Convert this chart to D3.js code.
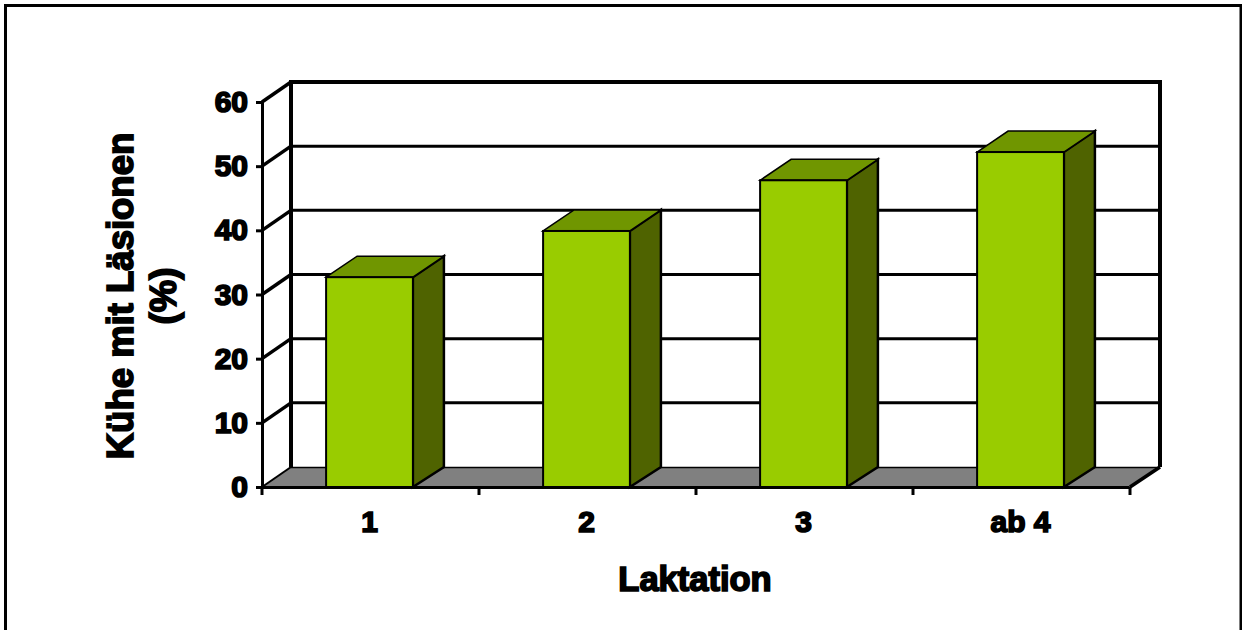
<!DOCTYPE html>
<html>
<head>
<meta charset="utf-8">
<script src="https://cdn.jsdelivr.net/npm/d3@7"></script>
<style>
html,body{margin:0;padding:0;background:#fff;}
svg{display:block;}
text{font-family:"Liberation Sans",Arial,sans-serif;font-weight:bold;fill:#000;stroke:#000;stroke-width:1.7px;}
</style>
</head>
<body>
<svg id="chart" width="1242" height="630"></svg>
<script>
// Share of cows with lesions by lactation number
const categories = ["1", "2", "3", "ab 4"];
const lesionShare = [32.7, 39.9, 47.8, 52.2];
const yTicks = [0, 10, 20, 30, 40, 50, 60];
const yTitleLines = ["Kühe mit Läsionen", "(%)"];
const xTitle = "Laktation";

const svg = d3.select("#chart");
const W = 1242, H = 630;

// Front plane of the pseudo-3D plot and its depth offset
const plotLeft = 262, plotRight = 1130, plotBase = 487, plotTop = 102;
const depthX = 29, depthY = -20;
const barDepthX = 31, barDepthY = -21;

const x = d3.scaleBand().domain(categories).range([plotLeft - 1, plotRight - 1]).paddingInner(0.6).paddingOuter(0.3);
const y = d3.scaleLinear().domain([0, 60]).range([plotBase, plotTop]);

// Outer frame (open at the bottom edge)
svg.append("path")
  .attr("d", d3.line()([[5.5, H], [5.5, 5.5], [1241, 5.5], [1241, H]]))
  .attr("fill", "none").attr("stroke", "#000").attr("stroke-width", 3);

// Floor
svg.append("polygon")
  .attr("points", [[plotLeft, plotBase], [plotLeft + depthX, plotBase + depthY], [plotRight + depthX + 1, plotBase + depthY], [plotRight, plotBase]].join(" "))
  .attr("fill", "#808080");

// Horizontal gridlines on the back wall, with their slanted links to the front axis
const grid = svg.append("g").attr("fill", "none").attr("stroke", "#000");
grid.selectAll("line.back").data(yTicks.slice(1)).join("line")
  .attr("class", "back")
  .attr("x1", plotLeft + depthX).attr("x2", plotRight + depthX + 1)
  .attr("y1", d => y(d) + depthY).attr("y2", d => y(d) + depthY)
  .attr("stroke-width", d => d === 60 ? 4 : 3);
grid.selectAll("line.link").data(yTicks.slice(1)).join("line")
  .attr("class", "link")
  .attr("x1", plotLeft).attr("x2", plotLeft + depthX)
  .attr("y1", d => y(d)).attr("y2", d => y(d) + depthY)
  .attr("stroke-width", 3.5);
grid.append("line").attr("x1", plotLeft).attr("x2", plotLeft + depthX)
  .attr("y1", plotBase).attr("y2", plotBase + depthY).attr("stroke-width", 2);
grid.append("line").attr("x1", plotRight).attr("x2", plotRight + depthX + 1)
  .attr("y1", plotBase).attr("y2", plotBase + depthY).attr("stroke-width", 3.5);
grid.append("line").attr("x1", plotLeft + depthX).attr("x2", plotRight + depthX)
  .attr("y1", plotBase + depthY + 0.5).attr("y2", plotBase + depthY + 0.5).attr("stroke-width", 1.5);

// Back wall verticals
grid.append("line").attr("x1", plotLeft + depthX).attr("x2", plotLeft + depthX)
  .attr("y1", y(60) + depthY - 2).attr("y2", plotBase + depthY).attr("stroke-width", 4);
grid.append("line").attr("x1", plotRight + depthX + 1).attr("x2", plotRight + depthX + 1)
  .attr("y1", y(60) + depthY - 2).attr("y2", plotBase + depthY).attr("stroke-width", 4);

// Bars: side, top, then front face
const bars = svg.append("g").selectAll("g").data(categories.map((c, i) => ({ c, v: lesionShare[i] }))).join("g")
  .attr("stroke", "#000").attr("stroke-linejoin", "miter");
const bx = d => x(d.c), bw = x.bandwidth();
bars.append("polygon")
  .attr("points", d => [[bx(d) + bw, y(d.v)], [bx(d) + bw + barDepthX, y(d.v) + barDepthY], [bx(d) + bw + barDepthX, plotBase + barDepthY + 1], [bx(d) + bw, plotBase]].join(" "))
  .attr("fill", "#4f6300").attr("stroke-width", 2.5);
bars.append("polygon")
  .attr("points", d => [[bx(d), y(d.v)], [bx(d) + barDepthX, y(d.v) + barDepthY], [bx(d) + bw + barDepthX, y(d.v) + barDepthY], [bx(d) + bw, y(d.v)]].join(" "))
  .attr("fill", "#709600").attr("stroke-width", 1.5);
bars.append("rect")
  .attr("x", bx).attr("y", d => y(d.v))
  .attr("width", bw).attr("height", d => plotBase - y(d.v))
  .attr("fill", "#99cc00").attr("stroke-width", 2);

// Front axes
const yAxis = svg.append("g").attr("transform", `translate(${plotLeft},0)`)
  .call(d3.axisLeft(y).tickValues(yTicks).tickSize(6).tickPadding(8));
const xAxis = svg.append("g").attr("transform", `translate(0,${plotBase})`)
  .call(d3.axisBottom(x).tickSize(0).tickPadding(24));
[yAxis, xAxis].forEach(a => {
  a.select(".domain").attr("stroke", "#000").attr("stroke-width", 3);
  a.selectAll("line").attr("stroke", "#000").attr("stroke-width", 3);
  a.selectAll("text").attr("font-size", 30).attr("font-family", null);
});

// Category boundary ticks below the base line
const boundary = d3.scaleLinear().domain([0, categories.length]).range([plotLeft, plotRight]);
svg.append("g").selectAll("line").data(d3.range(categories.length + 1)).join("line")
  .attr("x1", d => boundary(d)).attr("x2", d => boundary(d))
  .attr("y1", plotBase).attr("y2", plotBase + 8)
  .attr("stroke", "#000").attr("stroke-width", 3);

// Axis titles
const yt = svg.append("text").attr("text-anchor", "middle").attr("font-size", 36.5)
  .attr("transform", "translate(133,296) rotate(-90)");
yt.selectAll("tspan").data(yTitleLines).join("tspan")
  .attr("x", 0).attr("dy", (d, i) => i ? 43 : 0).text(d => d);

svg.append("text").attr("x", 695).attr("y", 591).attr("text-anchor", "middle")
  .attr("font-size", 34.5).text(xTitle);
</script>
</body>
</html>
